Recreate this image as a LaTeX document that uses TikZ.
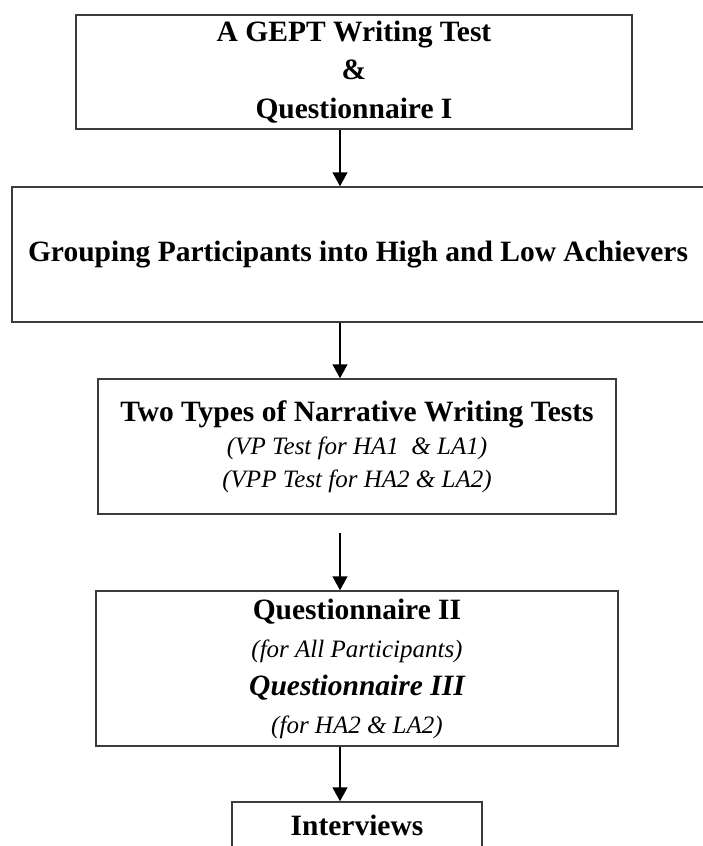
\documentclass[tikz,border=0pt]{standalone}
\usepackage{fontspec}
\setmainfont{Liberation Serif}
\usepackage{xcolor}
\usetikzlibrary{positioning, arrows.meta}
\definecolor{boxgray}{HTML}{3C3C3C}

\tikzset{
  stagebox/.style={draw=boxgray, line width=1.5pt, align=center, inner sep=0pt},
  flowarrow/.style={-{Triangle[width=15pt, length=14pt]}, line width=1.5pt},
}
\newcommand{\titlefont}{\fontsize{29.5}{38.5}\selectfont\bfseries\upshape}
\newcommand{\notefont}{\fontsize{25}{33}\selectfont\itshape}

\begin{document}
\begin{tikzpicture}[x=1pt, y=-1pt]
  \useasboundingbox (0,0) rectangle (703,846);
  \clip (0,0) rectangle (703,846);
  % stages of the study
  \node[stagebox, minimum width=556pt, minimum height=114pt, font=\titlefont] (gept) at (354,72)
    {A GEPT Writing Test\\ \&\\ Questionnaire I};
  \node[stagebox, minimum width=692pt, minimum height=135pt, font=\titlefont] (grouping) at (358,254.5)
    {Grouping Participants into High and Low Achievers};
  \node[stagebox, minimum width=518pt, minimum height=135pt, font=\notefont] (narrative) at (357,446.5)
    {{\titlefont Two Types of Narrative Writing Tests}\\ (VP Test for HA1 \ \& LA1)\\ (VPP Test for HA2 \& LA2)};
  \node[stagebox, minimum width=522pt, minimum height=155pt, font=\fontsize{25}{38}\selectfont] (quest) at (357,668.5)
    {{\titlefont Questionnaire II}\\ {\itshape (for All Participants)}\\ {\titlefont\itshape Questionnaire III}\\ {\itshape (for HA2 \& LA2)}};
  \node[stagebox, minimum width=250pt, minimum height=46pt, font=\titlefont] (interviews) at (357,825)
    {Interviews};
  % arrows down the spine
  \coordinate (spine) at (340,0);
  \draw[flowarrow] (gept.south -| spine) -- (grouping.north -| spine);
  \draw[flowarrow] (grouping.south -| spine) -- (narrative.north -| spine);
  \draw[flowarrow, shorten <=18pt] (narrative.south -| spine) -- (quest.north -| spine);
  \draw[flowarrow] (quest.south -| spine) -- (interviews.north -| spine);
\end{tikzpicture}
\end{document}
